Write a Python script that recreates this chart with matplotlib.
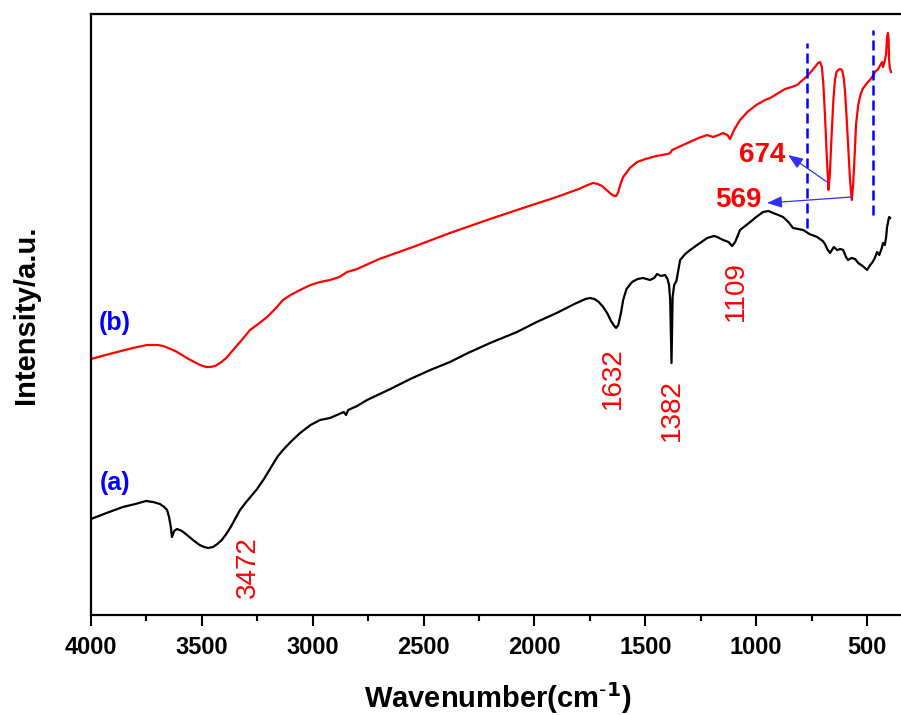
import matplotlib
matplotlib.use("Agg")
import matplotlib.pyplot as plt
from matplotlib.ticker import MultipleLocator

plt.rcParams["font.family"] = ["Liberation Sans", "DejaVu Sans"]

# FT-IR spectrum (a): wavenumber (cm^-1) and offset intensity (a.u.)
wn_a = [4000, 3930, 3856, 3800, 3752, 3720, 3689, 3670, 3657, 3648, 3640, 3635,
        3625, 3612, 3590, 3567, 3540, 3510, 3490, 3472, 3450, 3430, 3410, 3390,
        3370, 3350, 3328, 3300, 3270, 3251, 3220, 3190, 3160, 3134, 3100, 3057,
        3010, 2967, 2922, 2880, 2860, 2850, 2840, 2800, 2755, 2650, 2560, 2470,
        2381, 2300, 2200, 2079, 1990, 1900, 1820, 1770, 1750, 1730, 1710, 1690,
        1670, 1655, 1640, 1632, 1622, 1610, 1600, 1585, 1560, 1535, 1510, 1479,
        1460, 1447, 1430, 1411, 1400, 1393, 1388, 1384, 1382, 1380, 1377, 1370,
        1360, 1343, 1320, 1298, 1260, 1221, 1190, 1176, 1149, 1125, 1109, 1095,
        1073, 1050, 1027, 1000, 969, 945, 924, 900, 879, 855, 834, 810, 788,
        760, 725, 700, 690, 680, 667, 650, 635, 620, 608, 595, 586, 570, 554,
        540, 520, 500, 486, 475, 465, 455, 445, 435, 428, 420, 414, 410, 406,
        403, 400, 396]
int_a = [96, 102, 108, 111, 114, 113, 111, 108, 105, 98, 88, 78,
         84, 86, 84, 80, 75, 70, 68, 67, 68, 71, 75, 81,
         88, 96, 105, 113, 121, 126, 136, 147, 158, 165, 173, 182,
         190, 195, 197, 201, 203, 200, 205, 209, 215, 226, 236, 245,
         253, 262, 272, 283, 293, 302, 311, 316, 317, 316, 313, 308,
         301, 294, 289, 287, 290, 302, 315, 326, 333, 336, 337, 335,
         337, 341, 339, 340, 336, 330, 315, 275, 252, 280, 318, 330,
         334, 355, 361, 365, 371, 377, 379, 378, 375, 373, 369, 373,
         385, 389, 393, 398, 403, 404, 402, 400, 398, 393, 387, 386, 385,
         381, 378, 374, 371, 366, 362, 368, 365, 366, 365, 358, 355, 357, 356,
         352, 349, 345, 350, 353, 357, 363, 360, 366, 372, 370, 378, 388, 392,
         396, 398, 397]

# FT-IR spectrum (b)
wn_b = [4000, 3900, 3811, 3747, 3700, 3675, 3640, 3612, 3560, 3508, 3480, 3463,
        3440, 3418, 3390, 3359, 3320, 3283, 3240, 3206, 3170, 3134, 3100, 3057,
        3010, 2967, 2922, 2880, 2845, 2800, 2700, 2548, 2381, 2200, 2079, 1900,
        1800, 1760, 1736, 1715, 1695, 1675, 1655, 1640, 1632, 1622, 1612, 1600,
        1570, 1537, 1500, 1450, 1400, 1388, 1379, 1340, 1300, 1260, 1221, 1194,
        1170, 1149, 1130, 1118, 1100, 1073, 1040, 1000, 960, 937, 900, 870, 840,
        816, 790, 770, 750, 735, 721, 712, 704, 697, 690, 682, 674, 668, 660,
        652, 645, 638, 631, 622, 613, 606, 600, 593, 585, 577, 569, 563, 556,
        550, 540, 530, 520, 500, 480, 464, 450, 440, 432, 428, 423, 419, 414,
        410, 406, 403, 401, 398, 395, 392]
int_b = [256, 262, 267, 270, 270, 269, 266, 263, 256, 250, 248, 248,
         249, 252, 257, 265, 275, 285, 292, 298, 306, 315, 320, 325,
         330, 333, 335, 338, 343, 346, 356, 368, 382, 396, 405, 418,
         426, 430, 432, 431, 429, 425, 421, 419, 419, 423, 431, 438,
         447, 453, 456, 459, 461, 462, 465, 469, 473, 477, 480, 478,
         480, 482, 480, 476, 485, 495, 503, 510, 515, 517, 522, 526, 528,
         530, 535, 539, 544, 548, 552, 553, 548, 530, 500, 460, 425, 440, 480,
         515, 535, 543, 545, 546, 545, 538, 525, 500, 468, 435, 415, 430, 460,
         490, 510, 520, 526, 532, 537, 543, 546, 550, 553, 548, 552, 555, 562,
         578, 582, 576, 556, 548, 545, 543]

# band assignments
bands_a = ["3472", "1632", "1382", "1109"]
bands_b = ["674", "569"]
guide_lines = [770, 473]

fig = plt.figure(figsize=(9.01, 7.15), dpi=100)
ax = fig.add_axes([91 / 901, 100 / 715, 814 / 901, 601 / 715])

ax.plot(wn_a, int_a, color="black", lw=1.6, solid_joinstyle="round")
ax.plot(wn_b, int_b, color="#ff0000", lw=1.6, solid_joinstyle="round")

ax.set_xlim(4000, 329)
ax.set_ylim(0, 601)

# dashed guides bracketing the metal-oxygen region
ax.plot([guide_lines[0]] * 2, [387, 572], color="#0000ff", lw=1.8, ls=(0, (4, 2)))
ax.plot([guide_lines[1]] * 2, [400, 585], color="#0000ff", lw=1.8, ls=(0, (4, 2)))

red_kw = dict(color="#ff0000", fontsize=20, rotation=90, ha="center", va="center")
ax.text(3292, 48, bands_a[0], **red_kw)
ax.text(1645, 237, bands_a[1], **red_kw)
ax.text(1379, 205, bands_a[2], **red_kw)
ax.text(1091, 324, bands_a[3], **red_kw)

ax.text(973, 460, bands_b[0], color="#ff0000", fontsize=20, fontweight="bold",
        ha="center", va="center")
ax.text(1082, 415, bands_b[1], color="#ff0000", fontsize=20, fontweight="bold",
        ha="center", va="center")
arrow_kw = dict(arrowstyle="-|>,head_length=0.9,head_width=0.35", color="#2f2fff",
                lw=0.9, shrinkA=0, shrinkB=0)
ax.annotate("", xy=(856, 460), xytext=(674, 432), arrowprops=arrow_kw)
ax.annotate("", xy=(951, 412), xytext=(569, 418), arrowprops=arrow_kw)

ax.text(3892, 292, "(b)", color="#0000ff", fontsize=18, fontweight="bold",
        ha="center", va="center")
ax.text(3892, 132, "(a)", color="#0000ff", fontsize=18, fontweight="bold",
        ha="center", va="center")

ax.xaxis.set_major_locator(MultipleLocator(500))
ax.xaxis.set_minor_locator(MultipleLocator(250))
ax.set_yticks([])
ax.tick_params(axis="x", which="major", direction="out", length=8, width=1.5,
               labelsize=17, pad=7)
ax.tick_params(axis="x", which="minor", direction="out", length=4.5, width=1.5)
for lab in ax.get_xticklabels():
    lab.set_fontweight("bold")
for side in ["left", "top", "bottom", "right"]:
    ax.spines[side].set_linewidth(1.6)
ax.spines["right"].set_visible(False)

ax.set_xlabel("Wavenumber(cm$^{\\mathbf{\\text{-}1}}$)", fontsize=21,
              fontweight="bold", labelpad=15)
ax.set_ylabel("Intensity/a.u.", fontsize=21, fontweight="bold", labelpad=37)

fig.savefig("out.png", dpi=100)
